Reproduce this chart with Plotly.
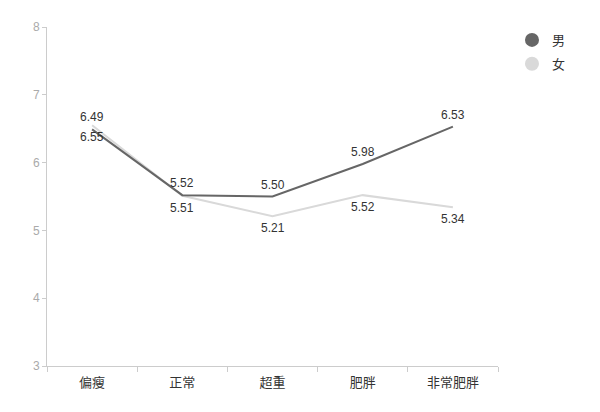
import plotly.graph_objects as go

categories = ["偏瘦", "正常", "超重", "肥胖", "非常肥胖"]
male = [6.49, 5.52, 5.50, 5.98, 6.53]
female = [6.55, 5.51, 5.21, 5.52, 5.34]
y_ticks = [3, 4, 5, 6, 7, 8]

male_color = "#666666"
female_color = "#d9d9d9"
font_family = "Liberation Sans, Arial, Noto Sans CJK SC, sans-serif"

fig = go.Figure()

# 数据线
fig.add_trace(go.Scatter(
    x=categories, y=female, mode="lines", name="女",
    line=dict(color=female_color, width=2),
    showlegend=False, hoverinfo="skip",
))
fig.add_trace(go.Scatter(
    x=categories, y=male, mode="lines", name="男",
    line=dict(color=male_color, width=2),
    showlegend=False, hoverinfo="skip",
))

# 数值标签：男在上，女在下
for cat, v in zip(categories, male):
    fig.add_annotation(x=cat, y=v, text=f"{v:.2f}", showarrow=False,
                       yshift=12, font=dict(size=12, color="#333333"))
for cat, v in zip(categories, female):
    fig.add_annotation(x=cat, y=v, text=f"{v:.2f}", showarrow=False,
                       yshift=-12, font=dict(size=12, color="#333333"))

# 图例（圆点）
for name, color in [("男", male_color), ("女", female_color)]:
    fig.add_trace(go.Scatter(
        x=[None], y=[None], mode="markers", name=name, legendgroup=name,
        marker=dict(size=14, color=color),
    ))

# 页面 body 有 8px 边距，这里把图缩小 8px 来对齐
fig.update_layout(
    width=592, height=404,
    margin=dict(l=39, r=102, t=19, b=46),
    paper_bgcolor="white", plot_bgcolor="white",
    font=dict(family=font_family, size=12, color="#333333"),
    legend=dict(x=1.031, y=1.006, xanchor="left", yanchor="top",
                font=dict(size=13, color="#333333"),
                itemwidth=30, tracegroupgap=4),
)
fig.update_xaxes(
    type="category", range=[-0.5, 4.5],
    showline=True, linecolor="#cccccc", linewidth=1,
    ticks="outside", tickson="boundaries", ticklen=5, tickcolor="#cccccc",
    ticklabelstandoff=4,
    showgrid=False, zeroline=False,
    tickfont=dict(size=13, color="#333333"),
)
fig.update_yaxes(
    range=[3, 8], tickvals=y_ticks,
    showline=True, linecolor="#cccccc", linewidth=1,
    ticks="outside", ticklen=4, tickcolor="#cccccc",
    showgrid=False, zeroline=False,
    tickfont=dict(size=12, color="#aaaaaa"),
)

fig.write_html("out.html")
